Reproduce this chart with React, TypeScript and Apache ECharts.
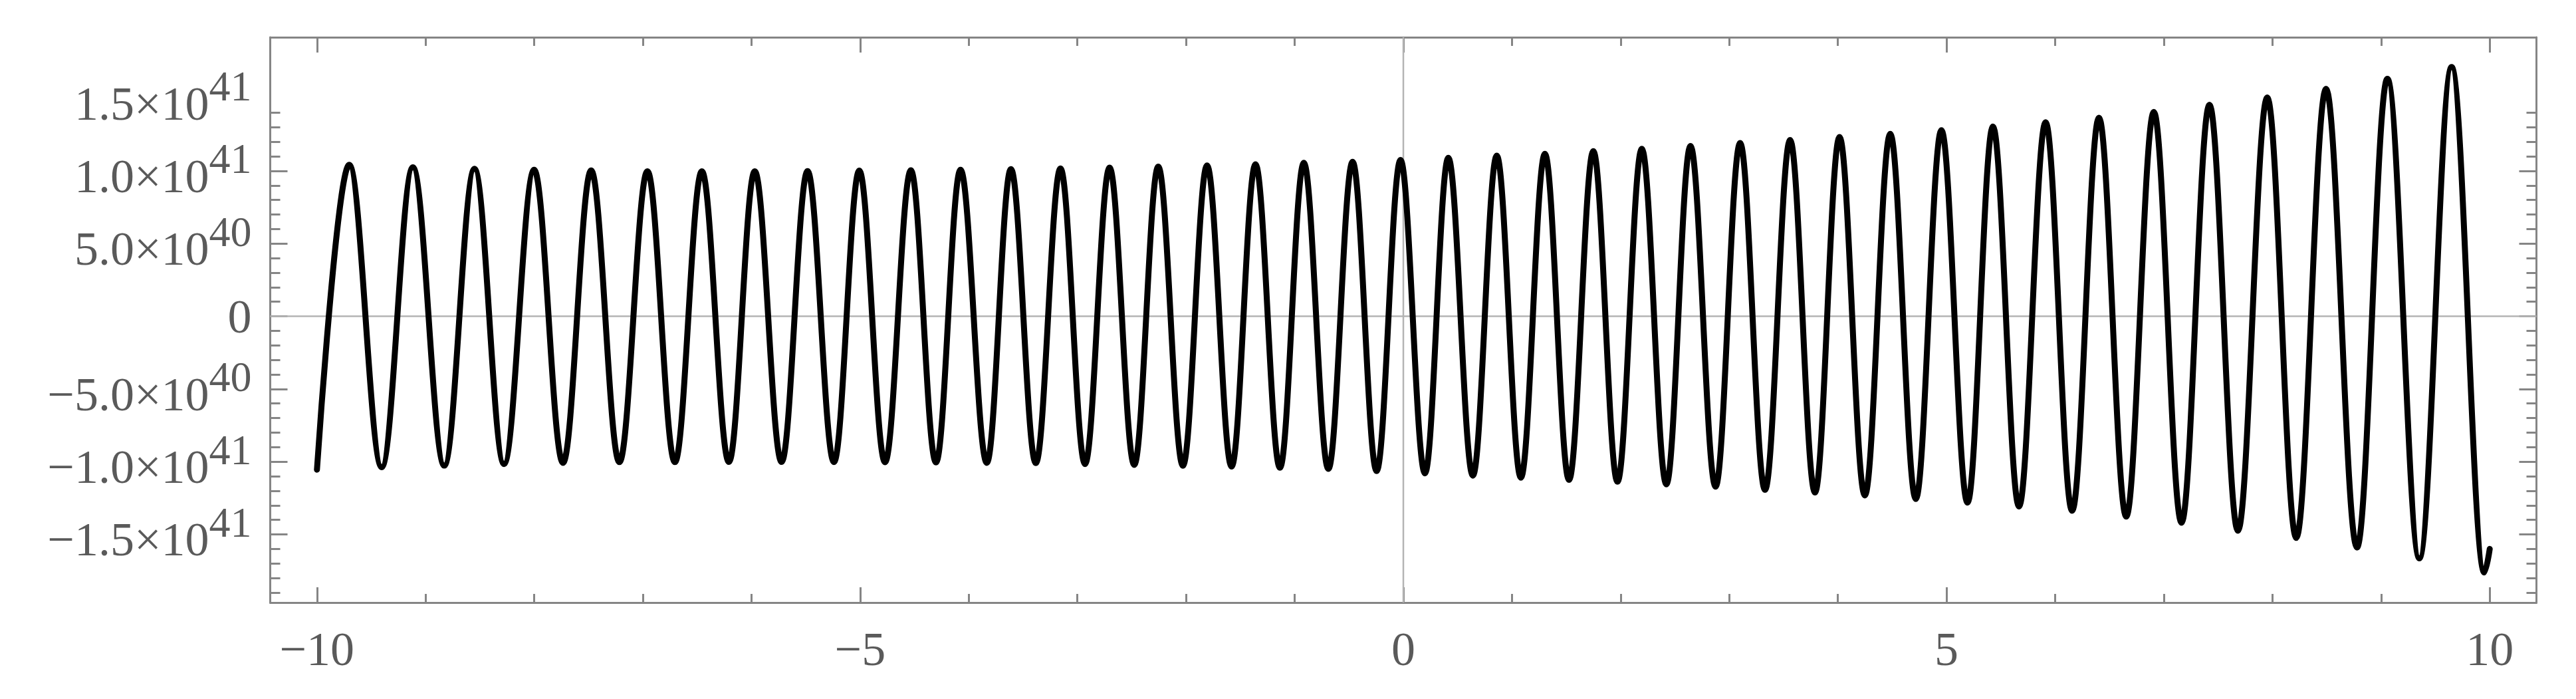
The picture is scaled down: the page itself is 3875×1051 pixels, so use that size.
import React, { useEffect, useRef } from "react";
import * as echarts from "echarts";

// ---- data (x, and y in units of 1e40) ----
const Y_UNIT = 1e40;

// start point, then alternating peaks / troughs, then the end point
const curveX = [
  -10, -9.703, -9.404, -9.117, -8.828, -8.55, -8.278, -8.001, -7.735, -7.476,
  -7.216, -6.958, -6.705, -6.457, -6.208, -5.97, -5.723, -5.484, -5.241, -5.008,
  -4.771, -4.533, -4.302, -4.076, -3.834, -3.612, -3.383, -3.156, -2.93, -2.704,
  -2.477, -2.256, -2.029, -1.807, -1.581, -1.361, -1.136, -0.916, -0.69, -0.467,
  -0.246, -0.026, 0.199, 0.414, 0.64, 0.86, 1.082, 1.303, 1.525, 1.749,
  1.971, 2.195, 2.421, 2.643, 2.874, 3.1, 3.329, 3.56, 3.789, 4.015,
  4.248, 4.482, 4.717, 4.953, 5.193, 5.427, 5.667, 5.912, 6.156, 6.403,
  6.654, 6.908, 7.163, 7.42, 7.682, 7.952, 8.219, 8.493, 8.778, 9.058,
  9.352, 9.649, 9.95, 10,
];

const curveY = [
  -10.55, 10.42, -10.38, 10.25, -10.27, 10.15, -10.16, 10.08, -10.08, 10.03,
  -10.03, 9.98, -10.03, 9.98, -10.02, 9.98, -10.02, 9.99, -10.03, 10.02,
  -10.04, 10.04, -10.05, 10.08, -10.08, 10.13, -10.1, 10.17, -10.16, 10.23,
  -10.22, 10.3, -10.28, 10.38, -10.34, 10.46, -10.42, 10.56, -10.5, 10.63,
  -10.64, 10.75, -10.8, 10.9, -10.96, 11.05, -11.1, 11.18, -11.25, 11.36,
  -11.38, 11.52, -11.56, 11.72, -11.72, 11.92, -11.94, 12.13, -12.12, 12.33,
  -12.32, 12.55, -12.57, 12.8, -12.82, 13.05, -13.08, 13.35, -13.38, 13.66,
  -13.78, 14.06, -14.2, 14.55, -14.75, 15.05, -15.24, 15.65, -15.9, 16.34,
  -16.65, 17.15, -17.62, -16.0,
];

// axis ranges, tick steps and labelled tick values
const xRange = [-10.43, 10.43];
const yRange = [-1.969e41, 1.9195e41];
const xTickStep = 5;
const yTickStep = 5e40;
const minorSplit = 5;
const xLabelValues = [-10, -5, 0, 5, 10];
const yLabelValues = [-1.5e41, -1e41, -5e40, 0, 5e40, 1e41, 1.5e41];

const FONT = "'Liberation Serif', 'Times New Roman', serif";
const FRAME = "#858585";
const LABEL = "#5a5a5a";
const ZERO_AXIS = "#b4b4b4";
const LABEL_SIZE = 72;
const SUP_SIZE = 64;

function fmtX(v: number): string {
  const r = Math.round(v);
  return r < 0 ? "\u2212" + Math.abs(r) : String(r);
}

function fmtY(v: number): string {
  const r = Math.round(v / Y_UNIT);
  if (r === 0) return "{n|0}";
  const sign = r < 0 ? "\u2212" : "";
  const a = Math.abs(r);
  if (a >= 10) return `{b|${sign}${(a / 10).toFixed(1)}\u00d710}{s|41}`;
  return `{b|${sign}${a.toFixed(1)}\u00d710}{s|40}`;
}

export default function App() {
  const ref = useRef<HTMLDivElement>(null);

  useEffect(() => {
    document.body.style.margin = "0";
    const chart = echarts.init(ref.current!, undefined, { renderer: "svg" });

    const tickLine = { color: FRAME, width: 3 };

    const xBase = (position: "top" | "bottom", showLabel: boolean) => ({
      type: "value",
      position,
      min: xRange[0],
      max: xRange[1],
      minInterval: xTickStep,
      maxInterval: xTickStep,
      splitLine: { show: false },
      axisLine: { show: true, onZero: false, lineStyle: tickLine },
      axisTick: { show: true, inside: true, length: 23, lineStyle: tickLine },
      minorTick: { show: true, splitNumber: minorSplit, length: 13, lineStyle: tickLine },
      axisLabel: {
        show: showLabel,
        customValues: xLabelValues,
        margin: 34,
        color: LABEL,
        fontFamily: FONT,
        fontSize: LABEL_SIZE,
        formatter: fmtX,
      },
    });

    const yBase = (position: "left" | "right", showLabel: boolean) => ({
      type: "value",
      position,
      min: yRange[0],
      max: yRange[1],
      minInterval: yTickStep,
      maxInterval: yTickStep,
      splitLine: { show: false },
      axisLine: { show: true, onZero: false, lineStyle: tickLine },
      axisTick: { show: true, inside: true, length: 26, lineStyle: tickLine },
      minorTick: { show: true, splitNumber: minorSplit, length: 15, lineStyle: tickLine },
      axisLabel: {
        show: showLabel,
        customValues: yLabelValues,
        margin: 28,
        color: LABEL,
        fontFamily: FONT,
        fontSize: LABEL_SIZE,
        formatter: fmtY,
        rich: {
          n: { fontFamily: FONT, fontSize: LABEL_SIZE, color: LABEL },
          b: {
            fontFamily: FONT,
            fontSize: LABEL_SIZE,
            color: LABEL,
            verticalAlign: "bottom",
            padding: [0, 0, 6, 0],
          },
          s: {
            fontFamily: FONT,
            fontSize: SUP_SIZE,
            color: LABEL,
            verticalAlign: "top",
            padding: [0, 0, 36, 0],
          },
        },
      },
    });

    chart.setOption({
      animation: false,
      backgroundColor: "#ffffff",
      grid: {
        left: 406.5,
        right: 59.5,
        top: 56,
        bottom: 145,
        containLabel: false,
        outerBoundsMode: "none",
      },
      xAxis: [xBase("bottom", true), xBase("top", false)],
      yAxis: [yBase("left", true), yBase("right", false)],
      series: [
        {
          type: "line",
          data: [
            [xRange[0], 0],
            [xRange[1], 0],
          ],
          symbol: "none",
          silent: true,
          lineStyle: { color: ZERO_AXIS, width: 2.5 },
          z: 1,
        },
        {
          type: "line",
          data: [
            [0, yRange[0]],
            [0, yRange[1]],
          ],
          symbol: "none",
          silent: true,
          lineStyle: { color: ZERO_AXIS, width: 2.5 },
          z: 1,
        },
        {
          type: "line",
          data: curveX.map((x, i) => [x, curveY[i] * Y_UNIT]),
          symbol: "none",
          showSymbol: false,
          smooth: 0.36,
          smoothMonotone: "x",
          silent: true,
          lineStyle: { color: "#000000", width: 9, cap: "round", join: "round" },
          z: 3,
        },
      ],
    });

    return () => chart.dispose();
  }, []);

  return <div ref={ref} style={{ width: 3875, height: 1051 }} />;
}
